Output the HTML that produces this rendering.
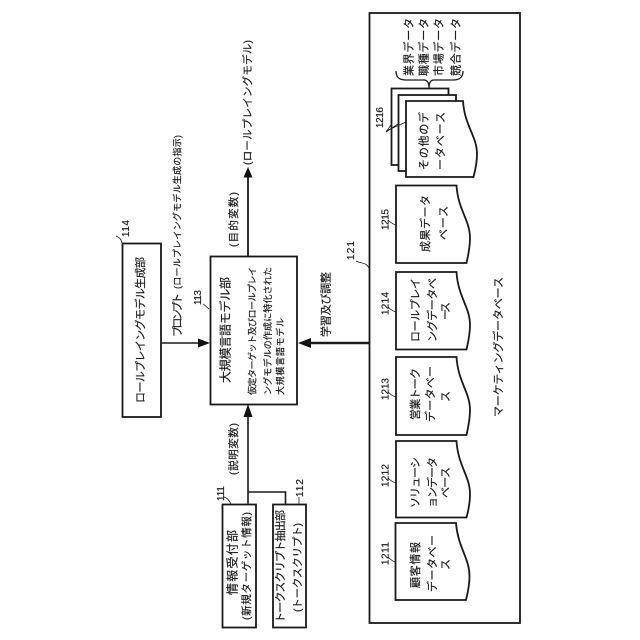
<!DOCTYPE html>
<html><head><meta charset="utf-8">
<style>
html,body{margin:0;padding:0;background:#fff;width:640px;height:640px;overflow:hidden}
svg{display:block}
text{font-family:"Liberation Sans","Noto Sans CJK JP",sans-serif;fill:#1a1a1a;stroke:#1a1a1a;stroke-width:.18}
.l{fill:none;stroke:#1a1a1a;stroke-width:1.6}
.b{fill:#fff;stroke:#1a1a1a;stroke-width:1.8}
.t{fill:none;stroke:#1a1a1a;stroke-width:.8}
</style></head><body>
<svg width="640" height="640" viewBox="0 0 640 640" xmlns="http://www.w3.org/2000/svg">
<!-- boxes -->
<rect class="b" x="122.500" y="243.500" width="38.500" height="173.500"/>
<rect class="b" x="210.500" y="256.500" width="86.500" height="148"/>
<rect class="b" x="222.500" y="504.500" width="33.500" height="123"/>
<rect class="b" x="273" y="504.500" width="33" height="123"/>
<rect class="b" x="369.500" y="13" width="150.500" height="610"/>
<!-- connectors -->
<path class="l" d="M248 256V176" style="stroke-width:1.8"/>
<path d="M248 167l-4.500 10.500h9z" fill="#111"/>
<path class="l" d="M161 343H200"/>
<path d="M210 343l-12-4.500v9z" fill="#111"/>
<path d="M298 343l13-5v10z" fill="#111"/>
<path class="l" d="M308 343H369.500" style="stroke-width:2.400"/>
<path class="l" d="M248 503.500V415"/>
<path d="M248 404l-4.500 13h9z" fill="#111"/>
<path class="l" d="M248 492H285.500V504"/>
<!-- documents -->
<path class="b" d="M396 185.500H456.500C458 210 470 220 470 238C470 248 468 256 466.500 263H396Z"/>
<path class="b" d="M396 272H456.500C458 297 470 307 470 325C470 335 468 343 466.500 349.500H396Z"/>
<path class="b" d="M396 357H456.500C458 382 470 392 470 410C470 420 468 428 466.500 435H396Z"/>
<path class="b" d="M396 441H456.500C458 466 470 476 470 494C470 504 468 512 466.500 517.500H396Z"/>
<path class="b" d="M395.500 523H456C458 548 469.500 558 469.500 576C469.500 586 467.500 594 466 600H395.500Z"/>
<rect class="b" x="391.500" y="88.500" width="57" height="76.500"/>
<rect class="b" x="398.500" y="95" width="57.500" height="76"/>
<path class="b" d="M406 101H463C464.500 126 477 136 477 154C477 164 475 171 473.500 177H406Z"/>
<!-- brace -->
<path class="l" d="M396 71C396 78 400 80 406 80H424C427 80 429 82 429 88C429 82 431 80 434 80H453C459 80 463 78 463 71" style="stroke-width:1.300"/>
<!-- leaders -->
<path class="t" d="M209 309C205 306 204 304 203 304"/>
<path class="t" d="M122 243C121 238 118 237 116 236"/>
<path class="t" d="M369 268C366 262 362 264 356 261"/>
<path class="t" d="M231 504C228 498 226 498 224 497"/>
<path class="t" d="M299 504V497"/>
<path class="t" d="M386 132L391 125M386 132L398 124M386 131L406 122"/>
<path class="t" d="M396 225C392 224 390 222 388 220"/>
<path class="t" d="M396 312C392 311 390 309 388 307"/>
<path class="t" d="M396 397C392 396 390 394 388 392"/>
<path class="t" d="M396 483C392 482 390 480 388 478"/>
<path class="t" d="M395 562C392 561 390 559 388 557"/>
<!-- rotated labels -->
<g>
<text transform="translate(144,403) rotate(-90)" font-size="11" textLength="146" lengthAdjust="spacing">ロールプレイングモデル生成部</text>
<text transform="translate(181,337) rotate(-90)" font-size="11" textLength="44" lengthAdjust="spacing">プロンプト</text>
<text transform="translate(180.500,289) rotate(-90)" font-size="9" textLength="154" lengthAdjust="spacing">(ロールプレイングモデル生成の指示)</text>
<text transform="translate(251,165) rotate(-90)" font-size="10.500" textLength="125" lengthAdjust="spacing">(ロールプレイングモデル)</text>
<text transform="translate(237,247) rotate(-90)" font-size="10.500" textLength="55" lengthAdjust="spacing">(目的変数)</text>
<text transform="translate(201,305) rotate(-90)" font-size="10" textLength="15">113</text>
<text transform="translate(129,237) rotate(-90)" font-size="10" textLength="17">114</text>
<text transform="translate(354,260) rotate(-90)" font-size="10" textLength="19">121</text>
<text transform="translate(329.500,337) rotate(-90)" font-size="11" textLength="65" lengthAdjust="spacing">学習及び調整</text>
<text transform="translate(229.500,383) rotate(-90)" font-size="12" textLength="106" lengthAdjust="spacing">大規模言語モデル部</text>
<text transform="translate(255.500,395) rotate(-90)" font-size="9" textLength="128" lengthAdjust="spacing">仮定ターゲット及びロールプレイ</text>
<text transform="translate(271,395) rotate(-90)" font-size="9" textLength="128" lengthAdjust="spacing">ングモデルの作成に特化された</text>
<text transform="translate(283.500,395) rotate(-90)" font-size="9" textLength="77" lengthAdjust="spacing">大規模言語モデル</text>
<text transform="translate(237,475) rotate(-90)" font-size="10.500" textLength="52" lengthAdjust="spacing">(説明変数)</text>
<text transform="translate(224,501) rotate(-90)" font-size="10" textLength="15">111</text>
<text transform="translate(303,497) rotate(-90)" font-size="10" textLength="18">112</text>
<text transform="translate(236.500,595) rotate(-90)" font-size="12" textLength="65" lengthAdjust="spacing">情報受付部</text>
<text transform="translate(250,620) rotate(-90)" font-size="10.500" textLength="108" lengthAdjust="spacing">(新規ターゲット情報)</text>
<text transform="translate(284,623) rotate(-90)" font-size="11" textLength="113" lengthAdjust="spacing">トークスクリプト抽出部</text>
<text transform="translate(301,612) rotate(-90)" font-size="10.500" textLength="89" lengthAdjust="spacing">(トークスクリプト)</text>
<!-- data list -->
<text transform="translate(412.500,76) rotate(-90)" font-size="11" textLength="58" lengthAdjust="spacing">業界データ</text>
<text transform="translate(427.500,76) rotate(-90)" font-size="11" textLength="58" lengthAdjust="spacing">職種データ</text>
<text transform="translate(442.500,76) rotate(-90)" font-size="11" textLength="58" lengthAdjust="spacing">市場データ</text>
<text transform="translate(459.500,76) rotate(-90)" font-size="11" textLength="58" lengthAdjust="spacing">競合データ</text>
<!-- DB text -->
<text transform="translate(427.500,170) rotate(-90)" font-size="11" textLength="58" lengthAdjust="spacing">その他のデ</text>
<text transform="translate(444,170) rotate(-90)" font-size="11" textLength="58" lengthAdjust="spacing">ータベース</text>
<text transform="translate(429,252) rotate(-90)" font-size="11" textLength="57" lengthAdjust="spacing">成果データ</text>
<text transform="translate(447,240) rotate(-90)" font-size="11" textLength="34" lengthAdjust="spacing">ベース</text>
<text transform="translate(419,342) rotate(-90)" font-size="11" textLength="64" lengthAdjust="spacing">ロールプレイ</text>
<text transform="translate(436,342) rotate(-90)" font-size="11" textLength="64" lengthAdjust="spacing">ングデータベ</text>
<text transform="translate(449,320) rotate(-90)" font-size="11" textLength="18" lengthAdjust="spacing">ース</text>
<text transform="translate(419,420) rotate(-90)" font-size="11" textLength="52" lengthAdjust="spacing">営業トーク</text>
<text transform="translate(434,422) rotate(-90)" font-size="11" textLength="56" lengthAdjust="spacing">データベー</text>
<text transform="translate(449,402) rotate(-90)" font-size="11" textLength="11" lengthAdjust="spacing">ス</text>
<text transform="translate(419,508) rotate(-90)" font-size="11" textLength="51" lengthAdjust="spacing">ソリューシ</text>
<text transform="translate(436,508) rotate(-90)" font-size="11" textLength="51" lengthAdjust="spacing">ョンデータ</text>
<text transform="translate(449,498) rotate(-90)" font-size="11" textLength="31" lengthAdjust="spacing">ベース</text>
<text transform="translate(419,588) rotate(-90)" font-size="11" textLength="46" lengthAdjust="spacing">顧客情報</text>
<text transform="translate(436,592) rotate(-90)" font-size="11" textLength="57" lengthAdjust="spacing">データベー</text>
<text transform="translate(449,570) rotate(-90)" font-size="11" textLength="11" lengthAdjust="spacing">ス</text>
<text transform="translate(383,128) rotate(-90)" font-size="10" textLength="21">1216</text>
<text transform="translate(388.500,230) rotate(-90)" font-size="10" textLength="21">1215</text>
<text transform="translate(388.500,315) rotate(-90)" font-size="10" textLength="23">1214</text>
<text transform="translate(388.500,400) rotate(-90)" font-size="10" textLength="22">1213</text>
<text transform="translate(388.500,487) rotate(-90)" font-size="10" textLength="23">1212</text>
<text transform="translate(388.500,565) rotate(-90)" font-size="10" textLength="23">1211</text>
<text transform="translate(502,417) rotate(-90)" font-size="11" textLength="140" lengthAdjust="spacing">マーケティングデータベース</text>
</g>
</svg>
</body></html>
